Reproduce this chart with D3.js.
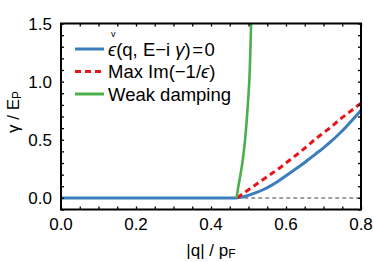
<!DOCTYPE html>
<html>
<head>
<meta charset="utf-8">
<script src="https://cdn.jsdelivr.net/npm/d3@7"></script>
<style>
  body { margin: 0; background: #fff; }
  text { font-family: "Liberation Sans", Arial, "DejaVu Sans", sans-serif; fill: #000; }
</style>
</head>
<body>
<svg></svg>
<script>
var width = 374;
var height = 262;

// data
var blueQ = [0, 0.465, 0.48, 0.50, 0.52, 0.54, 0.56, 0.58, 0.60, 0.62, 0.64, 0.66, 0.68, 0.70, 0.72, 0.74, 0.76, 0.78, 0.80];
var blueG = [0, 0, 0.006, 0.022, 0.045, 0.072, 0.105, 0.145, 0.19, 0.235, 0.28, 0.33, 0.38, 0.43, 0.485, 0.545, 0.61, 0.68, 0.755];
var redQ = [0.47, 0.48, 0.50, 0.52, 0.54, 0.56, 0.58, 0.60, 0.62, 0.64, 0.66, 0.68, 0.70, 0.72, 0.74, 0.76, 0.78, 0.80];
var redG = [0, 0.025, 0.07, 0.115, 0.16, 0.205, 0.25, 0.30, 0.35, 0.40, 0.455, 0.51, 0.56, 0.61, 0.665, 0.715, 0.765, 0.815];
var greenQ = [0.468, 0.470, 0.473, 0.478, 0.484, 0.490, 0.496, 0.502, 0.507, 0.510];
var greenG = [0, 0.04, 0.10, 0.19, 0.31, 0.47, 0.70, 1.0, 1.5, 1.8];
var grayQ = [0.47, 0.80];
var grayG = [0, 0];
var xTickLabels = [0, 0.2, 0.4, 0.6, 0.8];
var yTickLabels = [0, 0.5, 1.0, 1.5];

var margin = {left: 61, right: 13, top: 23.5, bottom: 52.5};

var x = d3.scaleLinear().domain([0, 0.8]).range([margin.left, width - margin.right]);
var y = d3.scaleLinear().domain([-0.1, 1.5]).range([height - margin.bottom, margin.top]);

var svg = d3.select("svg")
    .attr("width", width)
    .attr("height", height);

svg.append("defs").append("clipPath")
    .attr("id", "plot-clip")
  .append("rect")
    .attr("x", x(0))
    .attr("y", y(1.5))
    .attr("width", x(0.8) - x(0))
    .attr("height", y(-0.1) - y(1.5));

var line = d3.line()
    .x(d => x(d[0]))
    .y(d => y(d[1]))
    .curve(d3.curveMonotoneX);

var curves = svg.append("g").attr("clip-path", "url(#plot-clip)");

function addCurve(qs, gs, color, w, dash) {
  curves.append("path")
      .datum(d3.zip(qs, gs))
      .attr("fill", "none")
      .attr("stroke", color)
      .attr("stroke-width", w)
      .attr("stroke-dasharray", dash)
      .attr("d", line);
}

addCurve(grayQ, grayG, "#a0a0a0", 2, "4,3");
addCurve(blueQ, blueG, "#3b7ebb", 3, null);
addCurve(redQ, redG, "#e8141c", 3, "6,4");

// green is steep, so interpolate along y
curves.append("path")
    .datum(d3.zip(greenQ, greenG))
    .attr("fill", "none")
    .attr("stroke", "#4cb04a")
    .attr("stroke-width", 2.6)
    .attr("d", d3.line().x(d => x(d[0])).y(d => y(d[1])).curve(d3.curveMonotoneY));

// frame and ticks (inward on all four sides)
svg.append("g")
    .attr("transform", `translate(0, ${y(-0.1)})`)
    .call(d3.axisBottom(x).tickValues(d3.range(0, 0.801, 0.05)).tickSize(-3).tickFormat(""));
svg.append("g")
    .attr("transform", `translate(0, ${y(1.5)})`)
    .call(d3.axisTop(x).tickValues(d3.range(0, 0.801, 0.05)).tickSize(-3).tickFormat(""));
svg.append("g")
    .attr("transform", `translate(${x(0)}, 0)`)
    .call(d3.axisLeft(y).tickValues(d3.range(-0.1, 1.501, 0.1)).tickSize(-3).tickFormat(""));
svg.append("g")
    .attr("transform", `translate(${x(0.8)}, 0)`)
    .call(d3.axisRight(y).tickValues(d3.range(-0.1, 1.501, 0.1)).tickSize(-3).tickFormat(""));

svg.selectAll(".domain").remove();
svg.selectAll(".tick line").attr("stroke", "#000").attr("stroke-width", 1.3);

svg.append("rect")
    .attr("x", x(0))
    .attr("y", y(1.5))
    .attr("width", x(0.8) - x(0))
    .attr("height", y(-0.1) - y(1.5))
    .attr("fill", "none")
    .attr("stroke", "#000")
    .attr("stroke-width", 2);

// tick labels
svg.selectAll(".xlab")
  .data(xTickLabels)
  .enter()
  .append("text")
    .attr("x", d => x(d))
    .attr("y", 230)
    .style("text-anchor", "middle")
    .style("font-size", "17px")
    .text(d => d3.format(".1f")(d));

svg.selectAll(".ylab")
  .data(yTickLabels)
  .enter()
  .append("text")
    .attr("x", 52)
    .attr("y", d => y(d))
    .attr("dy", "0.36em")
    .style("text-anchor", "end")
    .style("font-size", "17px")
    .text(d => d3.format(".1f")(d));

// axis titles
var xt = svg.append("text")
    .attr("x", 211)
    .attr("y", 256)
    .style("text-anchor", "middle")
    .style("font-size", "17px");
xt.append("tspan").text("|q| / p");
xt.append("tspan").attr("dy", 2).style("font-size", "12px").text("F");

var yt = svg.append("text")
    .attr("transform", "translate(19, 112) rotate(-90)")
    .style("text-anchor", "middle")
    .style("font-size", "17px");
yt.append("tspan").text("γ / E");
yt.append("tspan").attr("dy", 2).style("font-size", "12px").text("P");

// legend
var legend = [
  {color: "#3b7ebb", dash: null, y: 49},
  {color: "#e8141c", dash: "6,4", y: 71.5},
  {color: "#4cb04a", dash: null, y: 94}
];

svg.selectAll(".leg")
  .data(legend)
  .enter()
  .append("line")
    .attr("x1", 75)
    .attr("x2", 104)
    .attr("y1", d => d.y)
    .attr("y2", d => d.y)
    .attr("stroke", d => d.color)
    .attr("stroke-width", 3)
    .attr("stroke-dasharray", d => d.dash);

var t1 = svg.append("text")
    .attr("x", 108)
    .attr("y", 55.5)
    .style("font-size", "18.5px");
t1.append("tspan").style("font-style", "italic").text("ϵ");
t1.append("tspan").text("(q, E\u2212i ");
t1.append("tspan").style("font-style", "italic").text("γ");
t1.append("tspan").text(")\u200a=\u200a0");

svg.append("text")
    .attr("x", 111)
    .attr("y", 37)
    .style("font-size", "9px")
    .text("v");

var t2 = svg.append("text")
    .attr("x", 108)
    .attr("y", 78)
    .style("font-size", "18.5px");
t2.append("tspan").text("Max Im(\u22121/");
t2.append("tspan").style("font-style", "italic").text("ϵ");
t2.append("tspan").text(")");

svg.append("text")
    .attr("x", 108)
    .attr("y", 100.5)
    .style("font-size", "18.5px")
    .text("Weak damping");
</script>
</body>
</html>
